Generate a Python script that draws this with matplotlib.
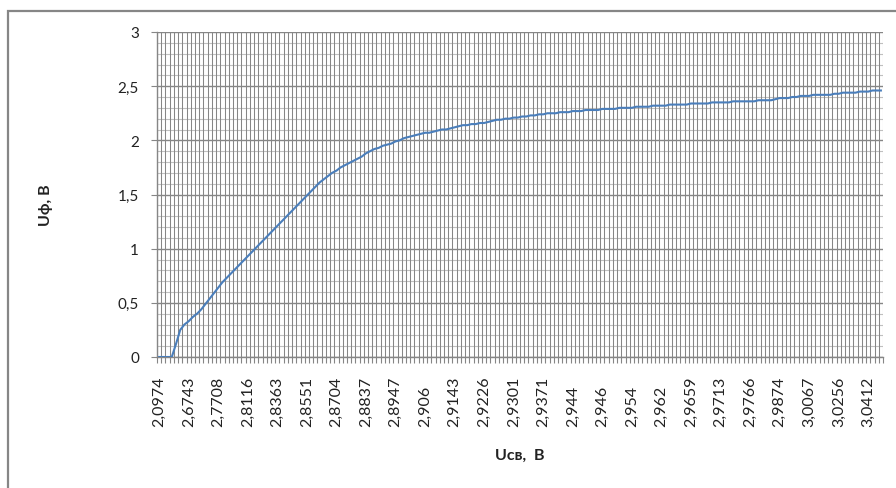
import numpy as np
import matplotlib
matplotlib.use("Agg")
import matplotlib.pyplot as plt
from matplotlib.patches import Rectangle

plt.rcParams['font.family'] = ['Lato', 'DejaVu Sans']

# Uф, В per point (172 points)
u_f = [0, 0, 0, 0, 0.12, 0.25, 0.30, 0.33, 0.37, 0.40,
       0.44, 0.49, 0.54, 0.59, 0.64, 0.69, 0.73, 0.77, 0.81, 0.85,
       0.89, 0.93, 0.97, 1.01, 1.05, 1.09, 1.13, 1.17, 1.21, 1.25,
       1.29, 1.33, 1.37, 1.41, 1.45, 1.49, 1.53, 1.57, 1.61, 1.64,
       1.67, 1.70, 1.72, 1.75, 1.77, 1.79, 1.81, 1.83, 1.85, 1.88,
       1.90, 1.92, 1.93, 1.95, 1.96, 1.97, 1.99, 2.00, 2.02, 2.03,
       2.04, 2.05, 2.06, 2.07, 2.07, 2.08, 2.09, 2.10, 2.10, 2.11,
       2.12, 2.13, 2.14, 2.14, 2.15, 2.15, 2.16, 2.16, 2.17, 2.18,
       2.19, 2.19, 2.20, 2.20, 2.21, 2.21, 2.22, 2.22, 2.23, 2.23,
       2.24, 2.24, 2.25, 2.25, 2.25, 2.26, 2.26, 2.26, 2.27, 2.27,
       2.27, 2.28, 2.28, 2.28, 2.28, 2.29, 2.29, 2.29, 2.29, 2.30,
       2.30, 2.30, 2.30, 2.31, 2.31, 2.31, 2.31, 2.32, 2.32, 2.32,
       2.32, 2.33, 2.33, 2.33, 2.33, 2.33, 2.34, 2.34, 2.34, 2.34,
       2.34, 2.35, 2.35, 2.35, 2.35, 2.35, 2.36, 2.36, 2.36, 2.36,
       2.36, 2.36, 2.37, 2.37, 2.37, 2.37, 2.38, 2.39, 2.39, 2.39,
       2.40, 2.40, 2.41, 2.41, 2.41, 2.42, 2.42, 2.42, 2.42, 2.42,
       2.43, 2.43, 2.44, 2.44, 2.44, 2.44, 2.45, 2.45, 2.45, 2.46,
       2.46, 2.46]

# Uсв labels shown on the category axis (every 7th point)
u_sv_labels = ["2,0974", "2,6743", "2,7708", "2,8116", "2,8363", "2,8551",
               "2,8704", "2,8837", "2,8947", "2,906", "2,9143", "2,9226",
               "2,9301", "2,9371", "2,944", "2,946", "2,954", "2,962",
               "2,9659", "2,9713", "2,9766", "2,9874", "3,0067", "3,0256",
               "3,0412"]
label_step = 7

n = len(u_f)
x = np.arange(n)

fig = plt.figure(figsize=(8.96, 4.89), dpi=100)
ax = fig.add_axes([157/896, 1-358/489, (883-157)/896, (358-33)/489])

grid_dark = '#868686'
grid_light = '#c0c0c0'

# vertical grid at category boundaries
for b in np.arange(n + 1) - 0.5:
    ax.axvline(b, color=grid_dark, lw=0.75, zorder=1)
# horizontal grid
for v in np.arange(0, 3.01, 0.1):
    major = abs(v * 2 - round(v * 2)) < 1e-6
    ax.axhline(v, color=grid_dark if major else grid_light,
               lw=1.0 if major else 0.8, zorder=1 if major else 0.9)

ax.plot(x, u_f, color='#4a7ebb', lw=1.5, zorder=3)

ax.set_xlim(-0.5, n - 0.5)
ax.set_ylim(0, 3)

ax.set_yticks(np.arange(0, 3.01, 0.5))
ax.set_yticklabels(['0', '0,5', '1', '1,5', '2', '2,5', '3'], fontsize=11)
ax.tick_params(axis='y', length=4, width=0.8, color=grid_dark, pad=9,
               labelcolor='#222222')

ax.set_xticks(np.arange(n + 1) - 0.5, minor=True)
ax.set_xticks(x[::label_step])
ax.set_xticklabels(u_sv_labels, rotation=90, va='bottom', fontsize=11.5,
                   color='#222222')
ax.tick_params(axis='x', which='major', length=0, pad=50)
ax.tick_params(axis='x', which='minor', length=4, width=0.8, color=grid_dark)

for s in ['top', 'right']:
    ax.spines[s].set_visible(False)
for s in ['left', 'bottom']:
    ax.spines[s].set_color(grid_dark)
    ax.spines[s].set_linewidth(1.0)

fig.text(520/896, 1-456/489, 'Uсв,  В', ha='center', va='center',
         fontsize=11.5, fontweight='bold', color='#222222')
fig.text(46/896, 1-205/489, 'Uф, В', ha='center', va='center', rotation=90,
         fontsize=11.5, fontweight='bold', color='#222222')

# chart area border (cut off at right and bottom)
fig.patches.append(Rectangle((8/896, -0.1), 1.1, 1 - 12/489 + 0.1,
                             transform=fig.transFigure, fill=False,
                             edgecolor=grid_dark, lw=1.6))

fig.savefig('out.png', dpi=100)
